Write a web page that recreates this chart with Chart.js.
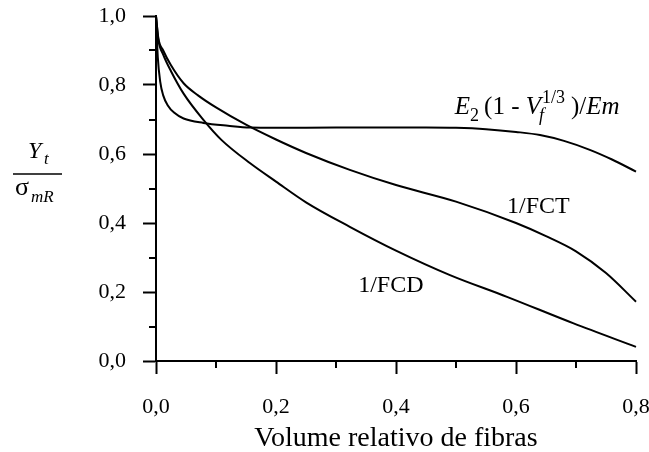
<!DOCTYPE html>
<html>
<head>
<meta charset="utf-8">
<script src="https://cdn.jsdelivr.net/npm/chart.js@4.4.1/dist/chart.umd.min.js"></script>
<style>
    html, body { margin: 0; padding: 0; background: #ffffff; }
</style>
</head>
<body>
<canvas id="fibrasChart" width="649" height="452"></canvas>
<script>
// Valores (fração volúmica de fibras -> Yt / sigma_mR)
const fctX = [0, 0.004, 0.012, 0.025, 0.046, 0.07, 0.1, 0.15, 0.2, 0.25, 0.323, 0.4, 0.5, 0.6, 0.65, 0.7, 0.75, 0.8];
const fctY = [1.0, 0.935, 0.9, 0.857, 0.805, 0.77, 0.735, 0.685, 0.642, 0.603, 0.554, 0.51, 0.462, 0.40, 0.362, 0.318, 0.255, 0.172];

const fcdX = [0, 0.004, 0.012, 0.025, 0.046, 0.079, 0.109, 0.157, 0.2, 0.25, 0.323, 0.4, 0.49, 0.585, 0.696, 0.8];
const fcdY = [1.0, 0.93, 0.888, 0.84, 0.775, 0.699, 0.641, 0.573, 0.52, 0.46, 0.389, 0.32, 0.249, 0.186, 0.109, 0.041];

const e2X = [0, 0.003, 0.007, 0.012, 0.02, 0.03, 0.046, 0.079, 0.12, 0.157, 0.25, 0.35, 0.45, 0.5, 0.55, 0.6, 0.64, 0.68, 0.723, 0.76, 0.8];
const e2Y = [1.0, 0.88, 0.81, 0.77, 0.74, 0.72, 0.703, 0.69, 0.682, 0.677, 0.676, 0.677, 0.677, 0.676, 0.672, 0.664, 0.655, 0.638, 0.612, 0.584, 0.549];

const xTicksMinor = [0.1, 0.3, 0.5, 0.7];
const yTicksMinor = [0.1, 0.3, 0.5, 0.7, 0.9];

const serif = "'Liberation Serif', 'Times New Roman', serif";

function pts(xs, ys) {
    return xs.map((x, i) => ({ x: x, y: ys[i] }));
}

function fmt(v) {
    return v.toFixed(1).replace('.', ',');
}

// minor ticks, y title (fraction) and curve labels
const extras = {
    id: 'extras',
    afterDraw(chart) {
        const c = chart.ctx;
        const xs = chart.scales.x;
        const ys = chart.scales.y;
        const area = chart.chartArea;
        c.save();
        c.strokeStyle = '#000';
        c.lineWidth = 2;
        c.beginPath();
        xTicksMinor.forEach(v => {
            const px = Math.round(xs.getPixelForValue(v));
            c.moveTo(px, area.bottom);
            c.lineTo(px, area.bottom + 7);
        });
        yTicksMinor.forEach(v => {
            const py = Math.round(ys.getPixelForValue(v));
            c.moveTo(area.left, py);
            c.lineTo(area.left - 7, py);
        });
        c.stroke();

        c.fillStyle = '#000';
        c.textBaseline = 'alphabetic';
        c.textAlign = 'left';

        // y title: Yt / sigma_mR
        c.font = 'italic 24px ' + serif;
        c.fillText('Y', 28, 158);
        c.font = 'italic 17px ' + serif;
        c.fillText('t', 44, 164);
        c.lineWidth = 1.5;
        c.beginPath();
        c.moveTo(13, 174);
        c.lineTo(62, 174);
        c.stroke();
        c.font = '26px ' + serif;
        c.fillText('σ', 15, 195);
        c.font = 'italic 17px ' + serif;
        c.fillText('mR', 31, 202);

        // curve labels
        c.font = '24px ' + serif;
        c.fillText('1/FCT', xs.getPixelForValue(0.585), ys.getPixelForValue(0.429));
        c.fillText('1/FCD', xs.getPixelForValue(0.337), ys.getPixelForValue(0.2));

        let x = xs.getPixelForValue(0.498);
        const b = ys.getPixelForValue(0.716);
        const piece = (txt, font, dy) => {
            c.font = font;
            c.fillText(txt, x, b + dy);
            x += c.measureText(txt).width;
        };
        piece('E', 'italic 25px ' + serif, 0);
        piece('2', '18px ' + serif, 7);
        x += 5;
        piece('(1 - ', '25px ' + serif, 0);
        piece('V', 'italic 25px ' + serif, 0);
        const sx = x;
        c.font = 'italic 18px ' + serif;
        c.fillText('f', sx - 2, b + 7);
        c.font = '18px ' + serif;
        c.fillText('1/3', sx + 1, b - 11);
        x = sx + c.measureText('1/3').width + 7;
        piece(')/', '25px ' + serif, 0);
        piece('E', 'italic 25px ' + serif, 0);
        piece('m', 'italic 25px ' + serif, 0);
        c.restore();
    }
};

const lineStyle = {
    borderColor: '#000000',
    borderWidth: 2,
    pointRadius: 0,
    fill: false,
    cubicInterpolationMode: 'monotone',
    clip: 4
};

new Chart(document.getElementById('fibrasChart'), {
    type: 'line',
    data: {
        datasets: [
            Object.assign({ label: '1/FCT', data: pts(fctX, fctY) }, lineStyle),
            Object.assign({ label: '1/FCD', data: pts(fcdX, fcdY) }, lineStyle),
            Object.assign({ label: 'E2 (1 - Vf^1/3)/Em', data: pts(e2X, e2Y) }, lineStyle)
        ]
    },
    options: {
        responsive: false,
        animation: false,
        layout: {
            padding: { left: 0, right: 13, top: 16, bottom: 0 }
        },
        plugins: {
            legend: { display: false },
            tooltip: { enabled: false }
        },
        scales: {
            x: {
                type: 'linear',
                min: 0,
                max: 0.8,
                afterFit(scale) {
                    scale.height = 91;
                    scale.paddingLeft = 0;
                    scale.paddingRight = 0;
                },
                border: { display: true, color: '#000', width: 2 },
                grid: {
                    drawOnChartArea: false,
                    drawTicks: true,
                    tickLength: 13,
                    tickColor: '#000',
                    tickWidth: 2
                },
                ticks: {
                    stepSize: 0.2,
                    color: '#000',
                    padding: 20,
                    maxRotation: 0,
                    font: { size: 22, family: serif },
                    callback: v => fmt(v)
                },
                title: {
                    display: true,
                    text: 'Volume relativo de fibras',
                    color: '#000',
                    padding: { top: 0, bottom: -3 },
                    font: { size: 28, family: serif }
                }
            },
            y: {
                min: 0,
                max: 1,
                afterFit(scale) {
                    scale.width = 156;
                    scale.paddingTop = 0;
                    scale.paddingBottom = 0;
                },
                border: { display: true, color: '#000', width: 2 },
                grid: {
                    drawOnChartArea: false,
                    drawTicks: true,
                    tickLength: 13,
                    tickColor: '#000',
                    tickWidth: 2
                },
                ticks: {
                    stepSize: 0.2,
                    color: '#000',
                    padding: 17,
                    font: { size: 22, family: serif },
                    callback: v => fmt(v)
                }
            }
        }
    },
    plugins: [extras]
});
</script>
</body>
</html>
